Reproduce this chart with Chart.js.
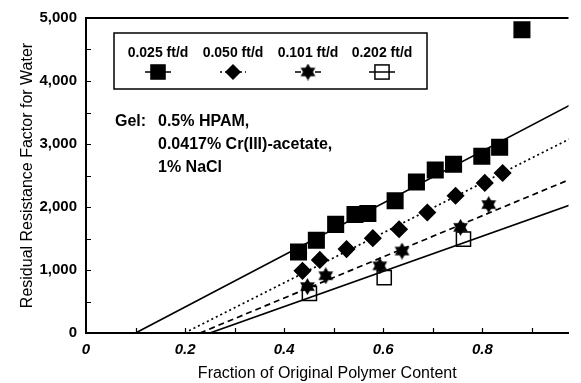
<!DOCTYPE html>
<html>
<head>
<meta charset="utf-8">
<script src="https://cdn.jsdelivr.net/npm/chart.js@4/dist/chart.umd.min.js"></script>
<style>
  html, body { margin: 0; padding: 0; background: #fff; }
  #wrap { width: 581px; height: 383px; position: relative; }
</style>
</head>
<body>
<div id="wrap"><canvas id="chart"></canvas></div>
<script>
// flow rates (legend)
const rates = ["0.025 ft/d", "0.050 ft/d", "0.101 ft/d", "0.202 ft/d"];

const frac025 = [0.429, 0.465, 0.504, 0.543, 0.569, 0.624, 0.667, 0.705, 0.742, 0.799, 0.835, 0.880];
const rrf025  = [1285, 1473, 1724, 1881, 1897, 2100, 2398, 2586, 2680, 2806, 2947, 4812];

const frac050 = [0.437, 0.472, 0.526, 0.579, 0.632, 0.689, 0.746, 0.805, 0.841];
const rrf050  = [987, 1160, 1332, 1505, 1646, 1912, 2179, 2382, 2539];

const frac101 = [0.447, 0.484, 0.593, 0.638, 0.756, 0.813];
const rrf101  = [737, 909, 1066, 1301, 1677, 2038];

const frac202 = [0.451, 0.602, 0.762];
const rrf202  = [627, 878, 1489];

// fitted lines (end points)
const fitX025 = [0.100, 1.0], fitY025 = [0, 3712];
const fitX050 = [0.199, 1.0], fitY050 = [0, 3175];
const fitX101 = [0.230, 1.0], fitY101 = [0, 2514];
const fitX202 = [0.250, 1.0], fitY202 = [0, 2095];

// axes
const xTicks = [0, 0.2, 0.4, 0.6, 0.8];
const yTicks = [0, 1000, 2000, 3000, 4000, 5000];

const gelNote = ["Gel:", "0.5% HPAM,", "0.0417% Cr(III)-acetate,", "1% NaCl"];

const pts = (xs, ys) => xs.map((x, i) => ({ x: x, y: ys[i] }));

function makeStar(size) {
  const c = document.createElement("canvas");
  c.width = size; c.height = size;
  const g = c.getContext("2d");
  const r = size / 2;
  g.fillStyle = "#000";
  [-Math.PI / 2, Math.PI / 2].forEach(off => {
    g.beginPath();
    for (let k = 0; k < 3; k++) {
      const a = off + k * 2 * Math.PI / 3;
      g.lineTo(r + r * Math.cos(a), r + r * Math.sin(a));
    }
    g.closePath();
    g.fill();
  });
  return c;
}
const star = makeStar(17);

const markers = [
  { pointStyle: "rect", radius: 11, fill: "#000" },
  { pointStyle: "rectRot", radius: 8, fill: "#000" },
  { pointStyle: star, radius: 8, fill: "#000" },
  { pointStyle: "rect", radius: 10, fill: "rgba(0,0,0,0)" },
];
const lineDash = [[], [2, 3], [6, 4], []];

function pointSet(label, data, m) {
  return {
    label: label, data: data, showLine: false, order: 1,
    pointStyle: m.pointStyle, pointRadius: m.radius, pointHoverRadius: m.radius,
    backgroundColor: m.fill, borderColor: "#000", borderWidth: 1.5,
  };
}
function fitSet(data, dash) {
  return {
    data: data, showLine: true, order: 2, pointRadius: 0,
    borderColor: "#000", borderWidth: 1.7, borderDash: dash,
  };
}

const FONT = "'Liberation Sans', Arial, sans-serif";

const frame = {
  id: "frame",
  afterDraw(chart) {
    const { ctx, chartArea: a, scales: { x, y } } = chart;
    ctx.save();
    ctx.strokeStyle = "#000";
    // top border
    ctx.lineWidth = 2;
    ctx.beginPath();
    ctx.moveTo(a.left, a.top); ctx.lineTo(a.right, a.top);
    ctx.stroke();
    // inward ticks
    ctx.lineWidth = 1.2;
    ctx.beginPath();
    for (let v = 500; v < 5000; v += 500) {
      const py = Math.round(y.getPixelForValue(v)) + 0.5;
      ctx.moveTo(a.left, py); ctx.lineTo(a.left + 5, py);
    }
    for (let k = 1; k <= 9; k++) {
      const px = Math.round(x.getPixelForValue(k / 10)) + 0.5;
      ctx.moveTo(px, a.bottom); ctx.lineTo(px, a.bottom - 5);
    }
    ctx.stroke();

    // legend box
    const bx = 114, by = 33, bw = 313, bh = 56;
    ctx.lineWidth = 1.5;
    ctx.strokeRect(bx, by, bw, bh);
    const cols = [158, 233, 308, 382];
    ctx.fillStyle = "#000";
    ctx.font = "bold 14px " + FONT;
    ctx.textAlign = "center";
    ctx.textBaseline = "middle";
    rates.forEach((r, i) => {
      const cx = cols[i], my = 72;
      ctx.fillText(r, cx, 53);
      ctx.setLineDash(lineDash[i]);
      ctx.lineWidth = 1.5;
      ctx.beginPath();
      ctx.moveTo(cx - 13, my); ctx.lineTo(cx + 13, my);
      ctx.stroke();
      ctx.setLineDash([]);
      const m = markers[i];
      if (m.pointStyle === star) {
        ctx.drawImage(star, cx - 8.5, my - 8.5);
      } else if (m.pointStyle === "rectRot") {
        ctx.beginPath();
        ctx.moveTo(cx - 8, my); ctx.lineTo(cx, my - 8); ctx.lineTo(cx + 8, my); ctx.lineTo(cx, my + 8);
        ctx.closePath(); ctx.fill();
      } else {
        const s = m.radius * Math.SQRT1_2;
        if (i === 0) ctx.fillRect(cx - s, my - s, 2 * s, 2 * s);
        else { ctx.lineWidth = 1.5; ctx.strokeRect(cx - s, my - s, 2 * s, 2 * s); }
      }
    });

    // gel composition note
    ctx.textAlign = "left";
    ctx.font = "bold 16px " + FONT;
    ctx.fillText(gelNote[0], 115, 122);
    ctx.fillText(gelNote[1], 158, 122);
    ctx.fillText(gelNote[2], 158, 145);
    ctx.fillText(gelNote[3], 158, 168);
    ctx.restore();
  }
};

const tickFont = { family: FONT, size: 15, weight: "bold" };
const titleFont = { family: FONT, size: 16 };

new Chart(document.getElementById("chart"), {
  type: "scatter",
  data: {
    datasets: [
      pointSet(rates[0], pts(frac025, rrf025), markers[0]),
      pointSet(rates[1], pts(frac050, rrf050), markers[1]),
      pointSet(rates[2], pts(frac101, rrf101), markers[2]),
      pointSet(rates[3], pts(frac202, rrf202), markers[3]),
      fitSet(pts(fitX025, fitY025), lineDash[0]),
      fitSet(pts(fitX050, fitY050), lineDash[1]),
      fitSet(pts(fitX101, fitY101), lineDash[2]),
      fitSet(pts(fitX202, fitY202), lineDash[3]),
    ],
  },
  options: {
    responsive: true,
    maintainAspectRatio: false,
    animation: false,
    layout: { padding: { top: 14, left: 0, right: 0, bottom: 0 } },
    plugins: { legend: { display: false }, tooltip: { enabled: false } },
    scales: {
      x: {
        type: "linear", min: 0, max: 0.974,
        afterBuildTicks: s => { s.ticks = xTicks.map(v => ({ value: v })); },
        afterFit: s => { s.height = 50; },
        grid: { display: false, drawTicks: false },
        border: { display: true, color: "#000", width: 2 },
        ticks: {
          color: "#000", padding: 8,
          font: Object.assign({}, tickFont, { style: "italic" }),
          callback: v => (v === 0 ? "0" : v.toFixed(1)),
        },
        title: {
          display: true, text: "Fraction of Original Polymer Content",
          color: "#000", font: titleFont, padding: { top: 0, bottom: 0 },
        },
      },
      y: {
        type: "linear", min: 0, max: 5000,
        afterBuildTicks: s => { s.ticks = yTicks.map(v => ({ value: v })); },
        afterFit: s => { s.width = 86; },
        grid: { display: false, drawTicks: false },
        border: { display: true, color: "#000", width: 2 },
        ticks: {
          color: "#000", padding: 9, font: tickFont,
          callback: v => v.toLocaleString("en-US"),
        },
        title: {
          display: true, text: "Residual Resistance Factor for Water",
          color: "#000", font: titleFont, padding: { top: 18, bottom: 0 },
        },
      },
    },
  },
  plugins: [frame],
});
</script>
</body>
</html>
